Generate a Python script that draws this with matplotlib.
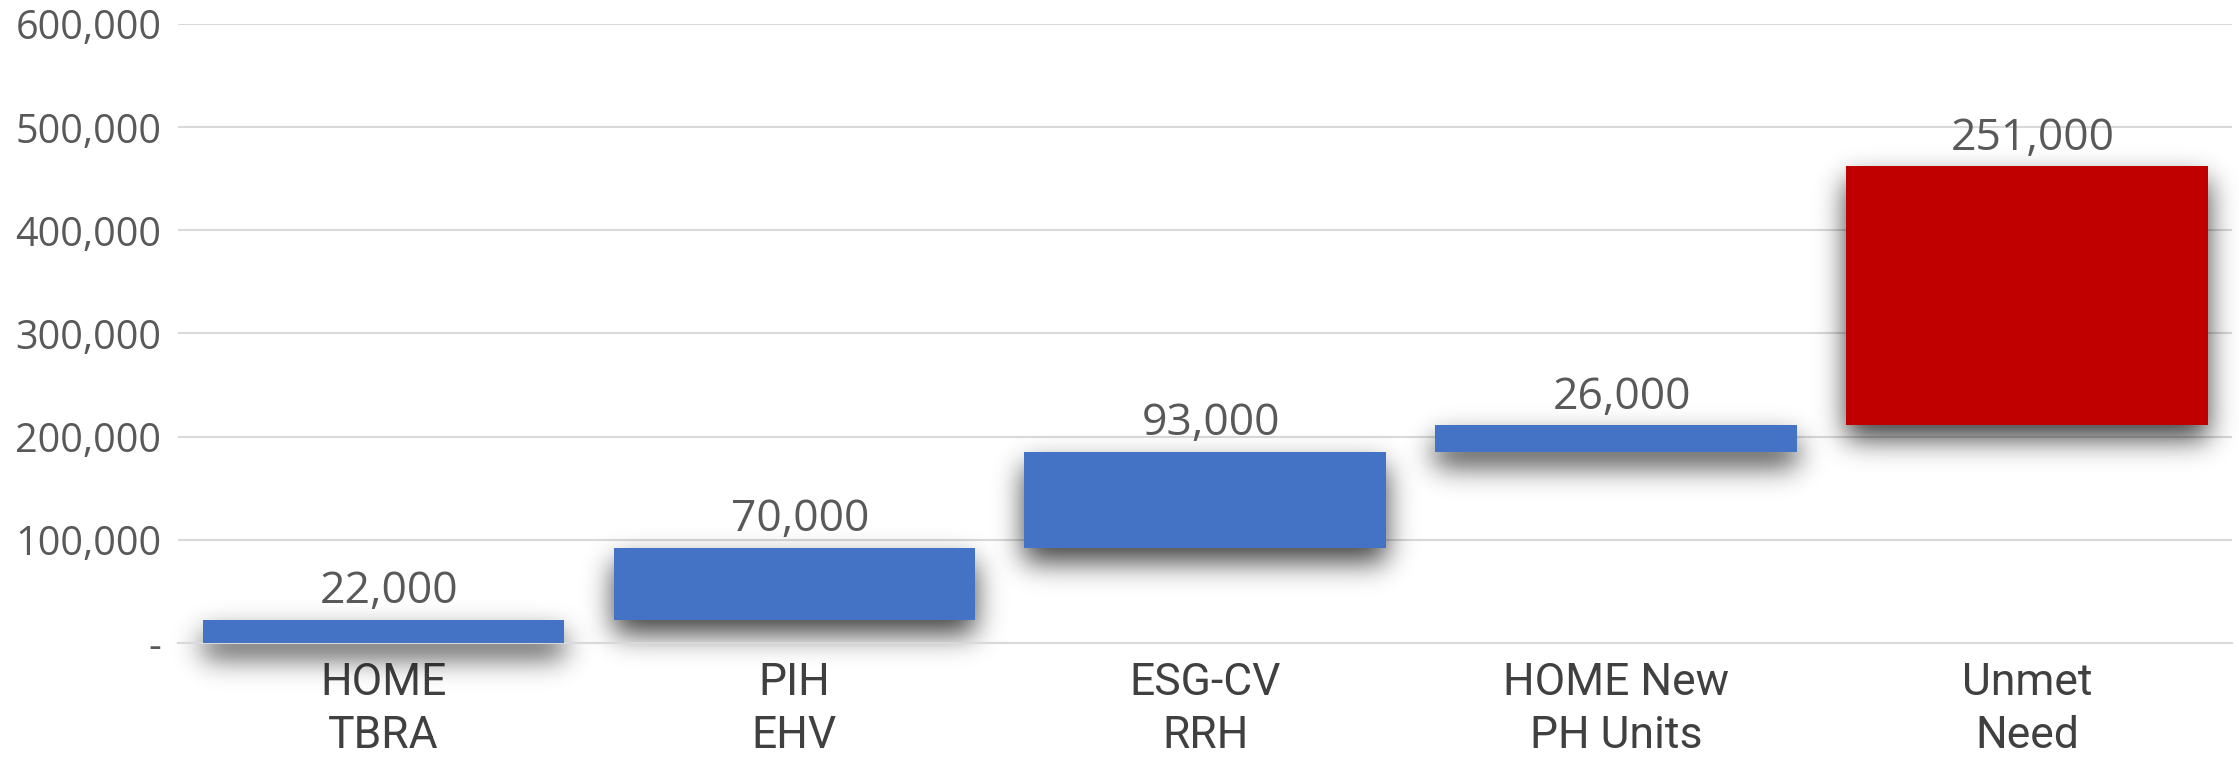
import matplotlib
matplotlib.use("Agg")
import numpy as np
import matplotlib.pyplot as plt
from matplotlib.ticker import FuncFormatter

categories = ["HOME\nTBRA", "PIH\nEHV", "ESG-CV\nRRH", "HOME New\nPH Units", "Unmet\nNeed"]
values = [22000, 70000, 93000, 26000, 251000]
colors = ["#4472C4", "#4472C4", "#4472C4", "#4472C4", "#C00000"]

bottoms = []
run = 0
for v in values:
    bottoms.append(run)
    run += v


def _blur1d(arr, kernel, axis):
    return np.apply_along_axis(lambda r: np.convolve(r, kernel, mode="same"), axis, arr)


def drop_shadow(im, dpi, sigma=14, shift=14, strength=0.75, pad=70):
    src = np.pad(im, [(pad, pad), (pad, pad), (0, 0)], "constant")
    a = src[:, :, 3]
    n = int(3 * sigma)
    k = np.exp(-0.5 * (np.arange(-n, n + 1) / sigma) ** 2)
    k /= k.sum()
    a = _blur1d(a, k, 0)
    a = _blur1d(a, k, 1)
    a = np.roll(a, shift, axis=0)
    out = np.zeros_like(src)
    out[:, :, 3] = np.clip(a * strength, 0, 1)
    return out, -pad, -pad


fig = plt.figure(figsize=(22.39, 7.57), dpi=100)
ax = fig.add_axes([0.0795, 0.151, 0.9175, 0.817])

x = list(range(len(values)))
width = 0.88

shadows = ax.bar(x, values, width=width, bottom=bottoms, color="black", zorder=2)
for p in shadows:
    p.set_agg_filter(drop_shadow)
    p.set_rasterized(True)

ax.bar(x, values, width=width, bottom=bottoms, color=colors, zorder=3)

for xi, b, v in zip(x, bottoms, values):
    ax.annotate(f"{v:,}", (xi, b + v), xytext=(4, 4), textcoords="offset points",
                ha="center", va="bottom", fontsize=32, color="#595959",
                family="Open Sans", zorder=4)

ax.set_xlim(-0.5, len(values) - 0.5)
ax.set_ylim(0, 600000)
ax.set_yticks(range(0, 600001, 100000))
ax.yaxis.set_major_formatter(FuncFormatter(lambda v, p: "-" if v == 0 else f"{int(v):,}"))
ax.grid(axis="y", color="#d9d9d9", linewidth=1.5, zorder=0)
ax.set_axisbelow(True)
for s in ["top", "right", "left"]:
    ax.spines[s].set_visible(False)
ax.spines["bottom"].set_color("#d9d9d9")
ax.spines["bottom"].set_linewidth(1.5)
ax.tick_params(axis="y", length=0, pad=12, labelsize=28.5, labelcolor="#595959")
ax.tick_params(axis="x", length=0, pad=14)
for t in ax.get_yticklabels():
    t.set_family("Open Sans")
ax.set_xticks(x)
ax.set_xticklabels(categories, fontsize=32, color="#404040",
                   family=["Liberation Sans Narrow", "Roboto"], linespacing=1.32)

fig.savefig("out.png", dpi=100)
